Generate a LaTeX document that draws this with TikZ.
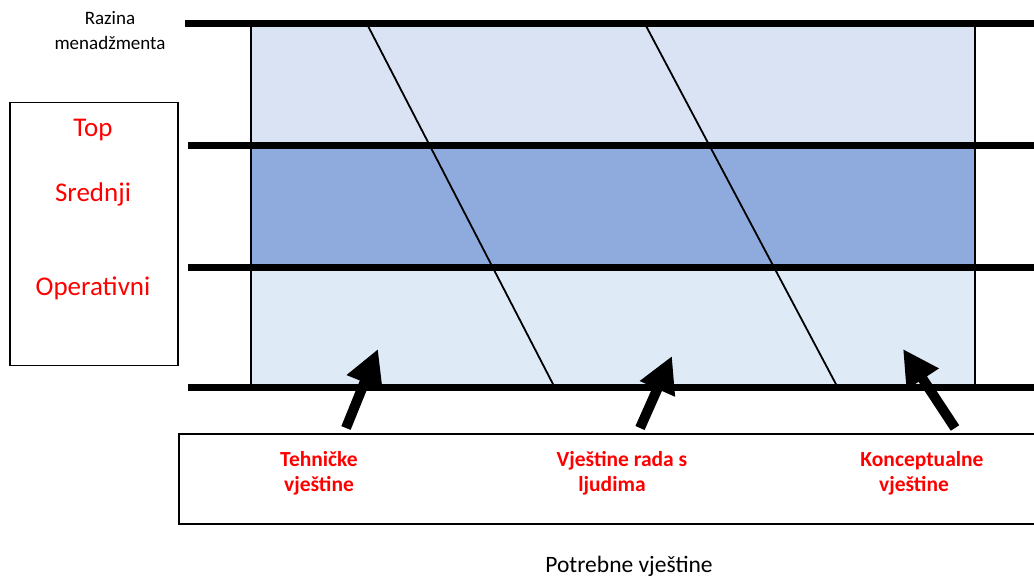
\documentclass[tikz,border=0pt]{standalone}
\usepackage{fontspec}
\setmainfont{Carlito}
\usetikzlibrary{arrows.meta}
\definecolor{bandtop}{HTML}{DAE3F3}
\definecolor{bandmid}{HTML}{8FAADC}
\definecolor{bandbot}{HTML}{DEEBF7}
\definecolor{lblred}{HTML}{FF0000}
\tikzset{
  level/.style={line width=7pt},
  diag/.style={line width=1.8pt},
  frame/.style={draw=black, line width=1.5pt},
  lvltext/.style={text=lblred, font=\fontsize{27}{32}\selectfont},
  skilltext/.style={text=lblred, font=\bfseries\fontsize{21.5}{25}\selectfont, align=center},
  plain/.style={font=\fontsize{19}{25}\selectfont, align=center},
  blockarrow/.style={line width=10pt, -{Triangle[length=36pt,width=36pt]}}
}
\begin{document}
\begin{tikzpicture}[x=1pt,y=-1pt]
\useasboundingbox (0,0) rectangle (1034,577);
% bands
\fill[bandtop] (251,24) rectangle (975,146);
\fill[bandmid] (251,146) rectangle (975,268);
\fill[bandbot] (251,268) rectangle (975,388);
\draw[line width=1.5pt] (251,24) -- (251,388);
\draw[line width=1.5pt] (975,24) -- (975,388);
% diagonals
\coordinate (d1a) at (367,24);
\coordinate (d1b) at (555,388);
\coordinate (d2a) at (645,24);
\coordinate (d2b) at (838,388);
\draw[diag] (d1a) -- (d1b);
\draw[diag] (d2a) -- (d2b);
% level lines
\coordinate (l1a) at (185,24);  \coordinate (l1b) at (1034,24);
\coordinate (l2a) at (188,146); \coordinate (l2b) at (1034,146);
\coordinate (l3a) at (188,268); \coordinate (l3b) at (1034,268);
\coordinate (l4a) at (188,388); \coordinate (l4b) at (1034,388);
\draw[level] (l1a) -- (l1b);
\draw[level] (l2a) -- (l2b);
\draw[level] (l3a) -- (l3b);
\draw[level] (l4a) -- (l4b);
% left box
\node[frame, minimum width=168pt, minimum height=263pt, anchor=north west] (levels) at (9,102) {};
\node[lvltext] (top) at (93,130) {Top};
\node[lvltext] (mid) at (93,194) {Srednji};
\node[lvltext] (ops) at (93,288) {Operativni};
% title
\node[plain] (razina) at (110,31) {Razina\\menadžmenta};
% bottom box
\node[frame, minimum width=856pt, minimum height=90pt, anchor=north west] (skills) at (178,433) {};
\node[skilltext] (teh) at (319,473) {Tehničke\\vještine};
\node[skilltext] (ljud) at (622,473) {Vještine rada s\\ljudima\hspace*{20pt}};
\node[skilltext] (konc) at (922,473) {Konceptualne\\vještine\hspace*{16pt}};
\node[font=\fontsize{23.5}{28}\selectfont] (potr) at (629,566) {Potrebne vještine};
% arrows
\coordinate (a1s) at (346,428); \coordinate (a1e) at (378,349);
\coordinate (a2s) at (640,428); \coordinate (a2e) at (672,356);
\coordinate (a3s) at (955,428); \coordinate (a3e) at (903,349);
\draw[blockarrow] (a1s) -- (a1e);
\draw[blockarrow] (a2s) -- (a2e);
\draw[blockarrow] (a3s) -- (a3e);
\end{tikzpicture}
\end{document}
